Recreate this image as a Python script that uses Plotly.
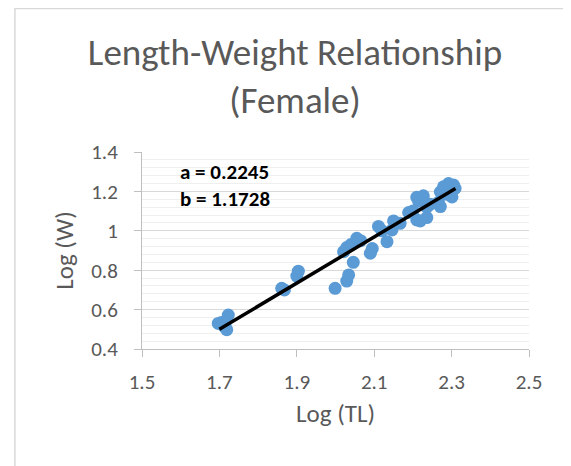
import plotly.graph_objects as go

log_tl = [1.697, 1.705, 1.712, 1.719, 1.723, 1.718, 1.861, 1.868, 1.900, 1.904,
          1.999, 2.029, 2.034, 2.046, 2.021, 2.029, 2.040, 2.055, 2.065, 2.090,
          2.095, 2.111, 2.120, 2.133, 2.146, 2.150, 2.167, 2.189, 2.210, 2.210,
          2.219, 2.227, 2.236, 2.245, 2.236, 2.266, 2.271, 2.271, 2.279, 2.292,
          2.305, 2.301, 2.309, 2.288, 2.200, 2.215]
log_w = [0.530, 0.535, 0.515, 0.498, 0.572, 0.545, 0.708, 0.700, 0.770, 0.795,
         0.708, 0.745, 0.776, 0.840, 0.894, 0.915, 0.930, 0.962, 0.950, 0.886,
         0.910, 1.022, 1.000, 0.945, 1.004, 1.050, 1.038, 1.093, 1.170, 1.055,
         1.050, 1.178, 1.067, 1.135, 1.120, 1.144, 1.123, 1.197, 1.223, 1.240,
         1.232, 1.172, 1.215, 1.185, 1.100, 1.150]

trend_x = [1.70, 2.31]
trend_y = [0.500, 1.215]

title_text = "Length-Weight Relationship<br>(Female)"
ann_lines = ["a = 0.2245", "b = 1.1728"]
x_title = "Log (TL)"
y_title = "Log (W)"

FONT = "Carlito, Lato, 'Open Sans', sans-serif"
GRAY = "#595959"
W, H = 571, 466
OFF = 8  # page body offset

fig = go.Figure()
fig.add_trace(go.Scatter(x=log_tl, y=log_w, mode="markers",
                         marker=dict(color="#5B9BD5", size=13, line=dict(width=0)),
                         showlegend=False, hoverinfo="skip"))
fig.add_trace(go.Scatter(x=trend_x, y=trend_y, mode="lines",
                         line=dict(color="black", width=3.5),
                         showlegend=False, hoverinfo="skip"))

L, T = 142 - OFF, 152 - OFF
pw, ph = 386.7, 197
R, B = W - L - pw, H - T - ph

def px(xp):
    return (xp - OFF - L) / pw

def py(yp):
    return (T + ph - (yp - OFF)) / ph

fig.update_layout(
    width=W, height=H,
    margin=dict(l=L, r=R, t=T, b=B),
    paper_bgcolor="white", plot_bgcolor="white",
    font=dict(family=FONT, color=GRAY, size=16),
    title=dict(text=title_text, x=(295 - OFF) / W, xref="container", xanchor="center",
               y=1 - (65 - OFF) / H, yref="container", yanchor="middle",
               font=dict(size=37, color=GRAY, family=FONT)),
    xaxis=dict(range=[1.5, 2.5], tickvals=[1.5, 1.7, 1.9, 2.1, 2.3, 2.5],
               ticktext=["1.5", "1.7", "1.9", "2.1", "2.3", "2.5"],
               showgrid=False, zeroline=False, showline=True, linecolor="#BFBFBF",
               linewidth=1, ticks="outside", ticklen=7, tickcolor="#BFBFBF",
               ticklabelstandoff=7,
               tickfont=dict(size=21, color=GRAY, family=FONT),
               title=dict(text=x_title, font=dict(size=25, color=GRAY, family=FONT), standoff=10)),
    yaxis=dict(range=[0.4, 1.4], tickvals=[0.4, 0.6, 0.8, 1.0, 1.2, 1.4],
               ticktext=["0.4", "0.6", "0.8", "1", "1.2", "1.4"],
               showgrid=True, gridcolor="#D9D9D9", gridwidth=1,
               minor=dict(dtick=0.04, showgrid=True, gridcolor="#EFEFEF", gridwidth=1),
               zeroline=False, showline=True, linecolor="#BFBFBF", linewidth=1,
               ticks="outside", ticklen=7, tickcolor="#BFBFBF",
               ticklabelstandoff=12,
               tickfont=dict(size=21, color=GRAY, family=FONT),
               title=dict(text=y_title, font=dict(size=25, color=GRAY, family=FONT), standoff=10)),
)

for i, t in enumerate(ann_lines):
    fig.add_annotation(text="<b>" + t + "</b>", xref="paper", yref="paper",
                       x=px(178), y=py(172 + 27 * i), xanchor="left", yanchor="middle",
                       showarrow=False, font=dict(size=21, color="black", family=FONT))

fig.add_shape(type="rect", xref="paper", yref="paper",
              x0=px(15), y0=py(800), x1=px(900), y1=py(8.5),
              line=dict(color="#D9D9D9", width=1.5), layer="below")

fig.write_html("out.html")
